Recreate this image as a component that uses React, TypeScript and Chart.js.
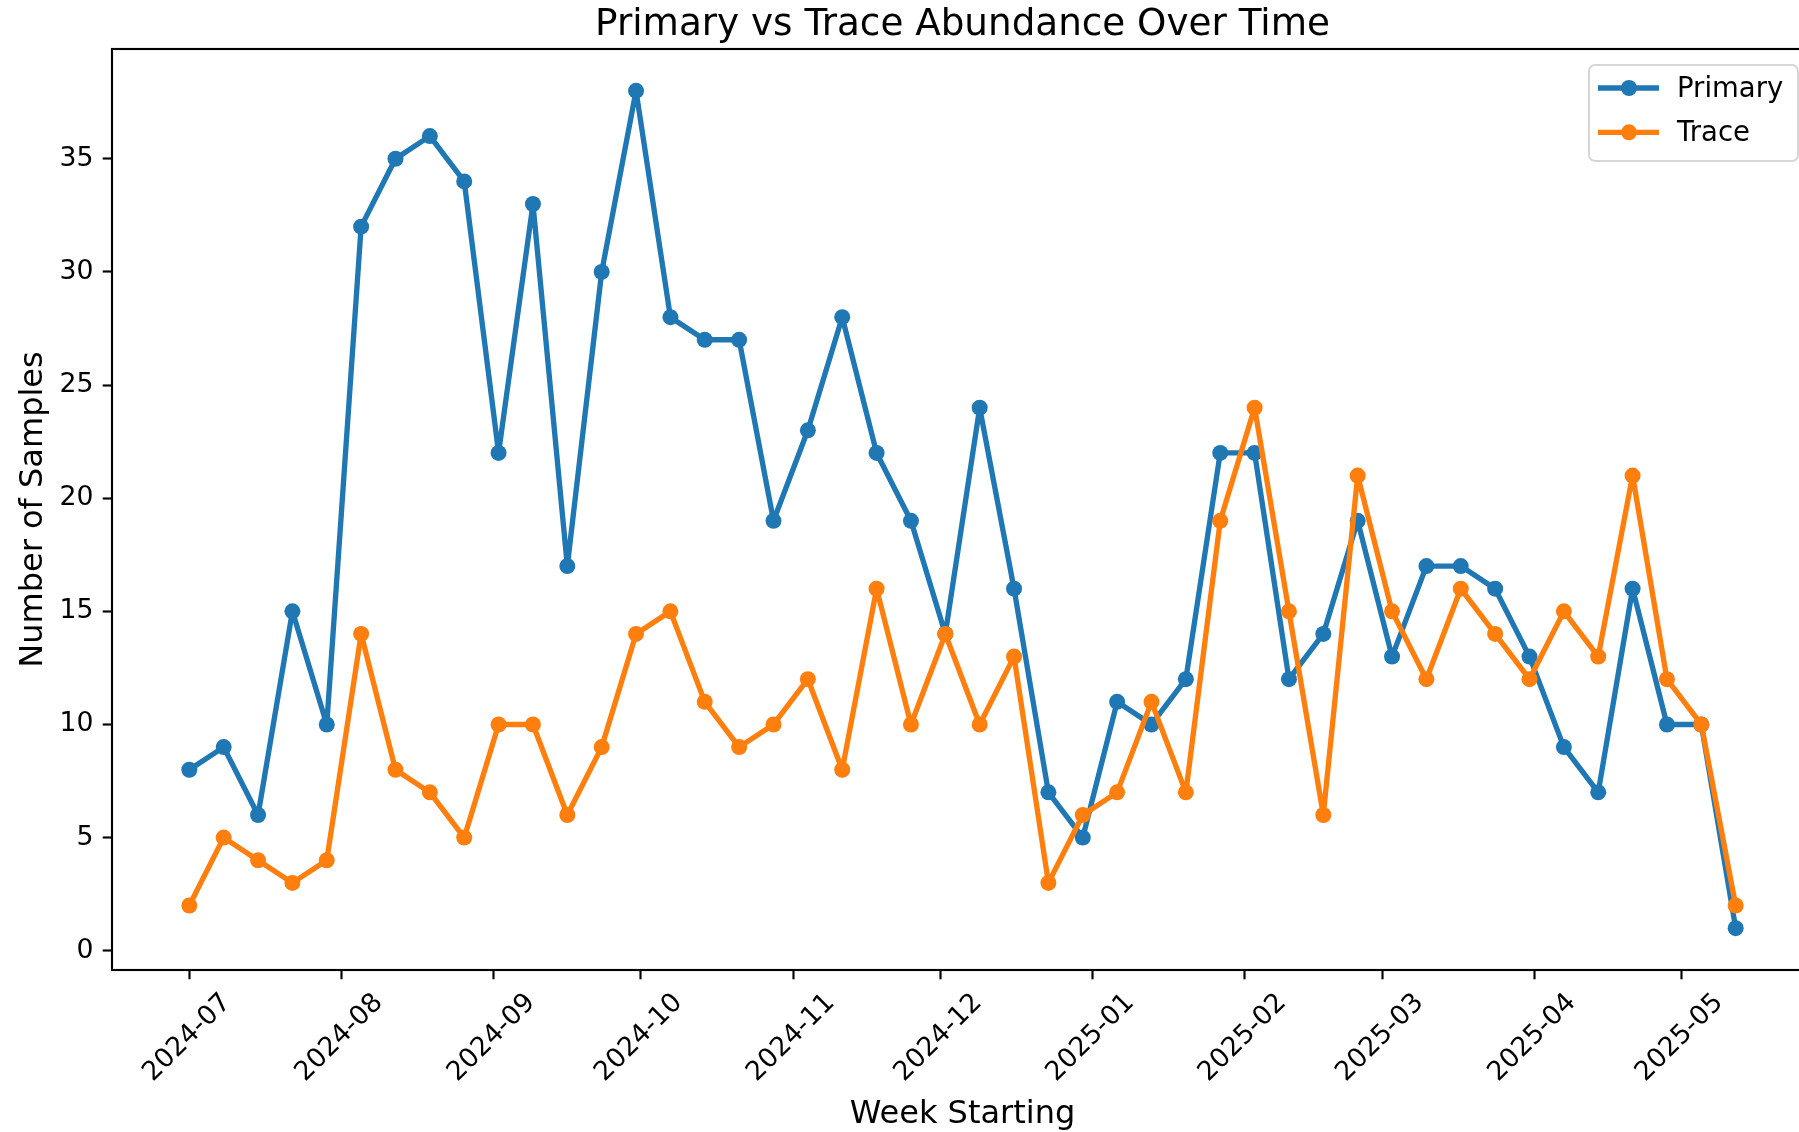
import React, { useEffect, useRef } from "react";
import { Chart, registerables } from "chart.js";

Chart.register(...registerables);

// ---------- data ----------
const WEEKS = [
  "2024-07-01", "2024-07-08", "2024-07-15", "2024-07-22", "2024-07-29",
  "2024-08-05", "2024-08-12", "2024-08-19", "2024-08-26",
  "2024-09-02", "2024-09-09", "2024-09-16", "2024-09-23", "2024-09-30",
  "2024-10-07", "2024-10-14", "2024-10-21", "2024-10-28",
  "2024-11-04", "2024-11-11", "2024-11-18", "2024-11-25",
  "2024-12-02", "2024-12-09", "2024-12-16", "2024-12-23", "2024-12-30",
  "2025-01-06", "2025-01-13", "2025-01-20", "2025-01-27",
  "2025-02-03", "2025-02-10", "2025-02-17", "2025-02-24",
  "2025-03-03", "2025-03-10", "2025-03-17", "2025-03-24", "2025-03-31",
  "2025-04-07", "2025-04-14", "2025-04-21", "2025-04-28",
  "2025-05-05", "2025-05-12",
];

const PRIMARY = [
  8, 9, 6, 15, 10,
  32, 35, 36, 34,
  22, 33, 17, 30, 38,
  28, 27, 27, 19,
  23, 28, 22, 19,
  14, 24, 16, 7, 5,
  11, 10, 12, 22,
  22, 12, 14, 19,
  13, 17, 17, 16, 13,
  9, 7, 16, 10,
  10, 1,
];

const TRACE = [
  2, 5, 4, 3, 4,
  14, 8, 7, 5,
  10, 10, 6, 9, 14,
  15, 11, 9, 10,
  12, 8, 16, 10,
  14, 10, 13, 3, 6,
  7, 11, 7, 19,
  24, 15, 6, 21,
  15, 12, 16, 14, 12,
  15, 13, 21, 12,
  10, 2,
];

const MONTH_TICKS = [
  "2024-07-01", "2024-08-01", "2024-09-01", "2024-10-01", "2024-11-01",
  "2024-12-01", "2025-01-01", "2025-02-01", "2025-03-01", "2025-04-01",
  "2025-05-01",
];
const Y_TICKS = [0, 5, 10, 15, 20, 25, 30, 35];

const TITLE = "Primary vs Trace Abundance Over Time";
const X_LABEL = "Week Starting";
const Y_LABEL = "Number of Samples";
const SERIES_LABELS = ["Primary", "Trace"];
const COLORS = ["#1f77b4", "#ff7f0e"];

// ---------- helpers ----------
const FONT = '"DejaVu Sans", "Liberation Sans", sans-serif';
const dayOf = (s: string) => {
  const [y, m, d] = s.split("-").map(Number);
  return Date.UTC(y, m - 1, d) / 86400000;
};

const CANVAS_W = 1830;
const CANVAS_H = 1132;
const TICK_FONT = 26.7;
const LEGEND_FONT = 27.5;
const LABEL_FONT = 32;
const TITLE_FONT = 37.3;
const LW = 5.33;
const SPINE = 2.13;
const MARKER_R = 8;

const decorPlugin = {
  id: "decor",
  afterDraw(chart: any) {
    const { ctx, chartArea: a, scales } = chart;
    ctx.save();

    // spines
    ctx.strokeStyle = "#000";
    ctx.lineWidth = SPINE;
    ctx.strokeRect(a.left, a.top, a.right - a.left, a.bottom - a.top);

    // x tick labels (rotated 45°, centred under the tick)
    ctx.fillStyle = "#000";
    ctx.font = `${TICK_FONT}px ${FONT}`;
    ctx.textAlign = "center";
    ctx.textBaseline = "middle";
    const xs = scales.x;
    for (const t of MONTH_TICKS) {
      const px = xs.getPixelForValue(dayOf(t));
      ctx.save();
      ctx.translate(px - 2, a.bottom + 68);
      ctx.rotate(-Math.PI / 4);
      ctx.fillText(t.slice(0, 7), 0, 0);
      ctx.restore();
    }

    // title
    const cx = (a.left + a.right) / 2;
    ctx.font = `${TITLE_FONT}px ${FONT}`;
    ctx.textAlign = "center";
    ctx.textBaseline = "alphabetic";
    ctx.fillText(TITLE, cx, a.top - 14);

    // x label
    ctx.font = `${LABEL_FONT}px ${FONT}`;
    ctx.fillText(X_LABEL, cx, a.bottom + 153);

    // y label
    const cy = (a.top + a.bottom) / 2;
    ctx.save();
    ctx.translate(42, cy);
    ctx.rotate(-Math.PI / 2);
    ctx.fillText(Y_LABEL, 0, 0);
    ctx.restore();

    // legend
    const lw = 209;
    const lh = 96;
    const lx = a.right - 15 - lw;
    const ly = a.top + 16;
    ctx.beginPath();
    ctx.roundRect(lx, ly, lw, lh, 6);
    ctx.fillStyle = "rgba(255,255,255,0.8)";
    ctx.fill();
    ctx.strokeStyle = "#d6d6d6";
    ctx.lineWidth = 2;
    ctx.stroke();

    chart.data.datasets.forEach((ds: any, i: number) => {
      const ry = ly + 23 + i * 44.3;
      ctx.strokeStyle = ds.borderColor;
      ctx.lineWidth = LW;
      ctx.lineCap = "butt";
      ctx.beginPath();
      ctx.moveTo(lx + 9, ry);
      ctx.lineTo(lx + 70, ry);
      ctx.stroke();
      ctx.fillStyle = ds.borderColor;
      ctx.beginPath();
      ctx.arc(lx + 40, ry, MARKER_R, 0, Math.PI * 2);
      ctx.fill();
      ctx.fillStyle = "#000";
      ctx.font = `${LEGEND_FONT}px ${FONT}`;
      ctx.textAlign = "left";
      ctx.textBaseline = "alphabetic";
      ctx.fillText(ds.label, lx + 88, ry + 9);
    });

    ctx.restore();
  },
};

export default function App() {
  const ref = useRef<HTMLCanvasElement | null>(null);

  useEffect(() => {
    document.body.style.margin = "0";
    document.body.style.overflow = "hidden";
    document.documentElement.style.overflow = "hidden";
    const canvas = ref.current;
    if (!canvas) return;

    const xVals = WEEKS.map(dayOf);
    const xSpan = xVals[xVals.length - 1] - xVals[0];
    const xMin = xVals[0] - 0.05 * xSpan;
    const xMax = xVals[xVals.length - 1] + 0.05 * xSpan;
    const all = [...PRIMARY, ...TRACE];
    const yLo = Math.min(...all);
    const yHi = Math.max(...all);
    const ySpan = yHi - yLo;
    const yMin = yLo - 0.05 * ySpan;
    const yMax = yHi + 0.05 * ySpan;

    const series = [PRIMARY, TRACE];
    const gridOpts = {
      drawOnChartArea: false,
      drawTicks: true,
      tickLength: 9.3,
      tickColor: "#000",
      tickWidth: SPINE,
    };

    const chart = new Chart(canvas, {
      type: "line",
      data: {
        datasets: series.map((vals, i) => ({
          label: SERIES_LABELS[i],
          data: xVals.map((x, j) => ({ x, y: vals[j] })),
          borderColor: COLORS[i],
          backgroundColor: COLORS[i],
          pointBackgroundColor: COLORS[i],
          pointBorderWidth: 0,
          pointRadius: MARKER_R,
          pointHoverRadius: MARKER_R,
          borderWidth: LW,
          borderJoinStyle: "round",
          tension: 0,
          fill: false,
          order: series.length - i,
        })),
      },
      options: {
        responsive: false,
        animation: false,
        devicePixelRatio: 1,
        events: [],
        layout: { padding: { left: 0, right: 17, top: 49, bottom: 0 } },
        plugins: {
          legend: { display: false },
          title: { display: false },
          tooltip: { enabled: false },
        },
        scales: {
          x: {
            type: "linear",
            min: xMin,
            max: xMax,
            afterBuildTicks: (s: any) => {
              s.ticks = MONTH_TICKS.map((t) => ({ value: dayOf(t) }));
            },
            afterFit: (s: any) => {
              s.height = 162;
            },
            ticks: { display: false },
            grid: gridOpts,
            border: { display: false },
          },
          y: {
            type: "linear",
            min: yMin,
            max: yMax,
            afterBuildTicks: (s: any) => {
              s.ticks = Y_TICKS.map((v) => ({ value: v }));
            },
            afterFit: (s: any) => {
              s.width = 112;
            },
            ticks: {
              color: "#000",
              padding: 9.3,
              font: { family: FONT, size: TICK_FONT },
            },
            grid: gridOpts,
            border: { display: false },
          },
        },
      },
      plugins: [decorPlugin],
    } as any);

    return () => chart.destroy();
  }, []);

  return (
    <div style={{ position: "fixed", left: 0, top: 0, width: CANVAS_W, height: CANVAS_H }}>
      <canvas ref={ref} width={CANVAS_W} height={CANVAS_H} style={{ display: "block" }} />
    </div>
  );
}
